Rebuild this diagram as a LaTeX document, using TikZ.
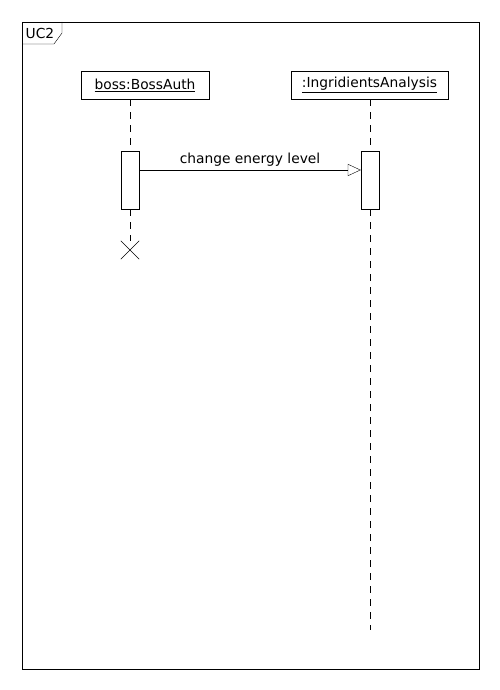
\documentclass[tikz,border=0pt]{standalone}
\usepackage{fontspec}
\setmainfont{DejaVu Sans}
\usetikzlibrary{arrows.meta,positioning,shapes.misc}
\tikzset{x=1pt,y=-1pt,line width=1pt,
  font=\fontsize{13.8}{16}\selectfont,
  obj/.style={draw,minimum height=28pt,inner xsep=0pt},
  act/.style={draw,fill=white,minimum width=18pt,minimum height=58pt,inner sep=0pt},
  life/.style={dash pattern=on 7pt off 6pt},
  msg/.style={-{Triangle[open,length=13pt,width=12pt]}},
  killed/.style={draw,cross out,minimum size=18pt,inner sep=0pt}}

\begin{document}
\begin{tikzpicture}
  \useasboundingbox (0,0) rectangle (500,690);
  % frame with its tab
  \draw (22,22) rectangle (479,669);
  \draw (22,44) -- (54,44) -- (62,33) -- (62,22);
  \node (tab) at (40,33.5) {UC2};

  \node[obj,minimum width=128pt] (boss) at (145,85) {\underline{boss:BossAuth}};
  \node[obj,minimum width=157pt] (ia) at (369.5,85) {\underline{:IngridientsAnalysis}};

  \node[act] (bossact) at (130,180) {};
  \node[act] (iaact) at (370,180) {};
  \node[killed] (end) at (130,250) {};
  \coordinate (iaend) at (370,630);

  \path
  (boss.south -| bossact) edge [life] (bossact.north)
  (bossact.south) edge [life] (end.north)
  (ia.south -| iaact) edge [life] (iaact.north)
  (iaact.south) edge [life] (iaend)
  ;
  \draw[msg] (bossact.east |- 0,170) -- node[above=0pt] (msglabel) {change energy level} (iaact.west |- 0,170);
\end{tikzpicture}
\end{document}
